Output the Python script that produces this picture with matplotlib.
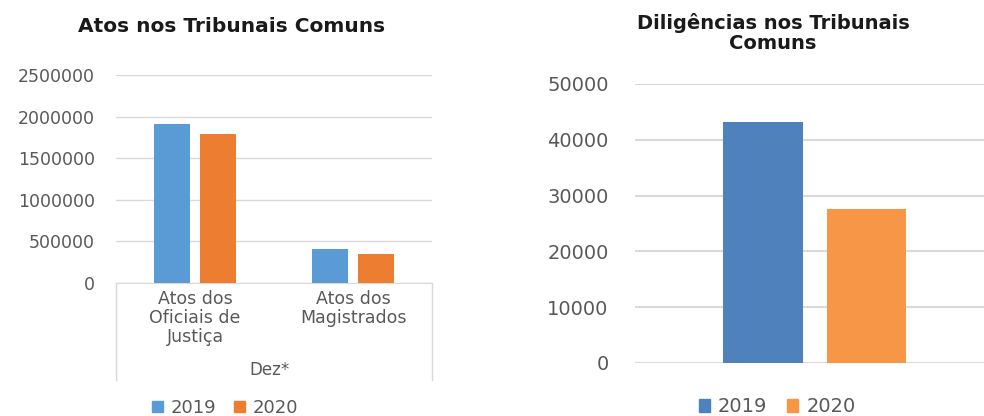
import matplotlib
matplotlib.use("Agg")
import matplotlib.pyplot as plt
import numpy as np
from matplotlib.patches import Patch
from matplotlib.lines import Line2D

# Data
left_categories = ["Atos dos\nOficiais de\nJustiça", "Atos dos\nMagistrados"]
left_2019 = [1910000, 409000]
left_2020 = [1790000, 349000]
left_yticks = [0, 500000, 1000000, 1500000, 2000000, 2500000]
left_xlabel = "Dez*"

right_2019 = [43200]
right_2020 = [27600]
right_yticks = [0, 10000, 20000, 30000, 40000, 50000]

series = ["2019", "2020"]

GRID = "#D9D9D9"
TICK = "#595959"
FONT = "DejaVu Sans"

fig = plt.figure(figsize=(9.84, 4.16), dpi=100)

# ---------- Left chart ----------
axL = fig.add_axes([116/984, 1-283/416, (432-116)/984, (283-75)/416])
x = np.arange(len(left_categories))
w = 0.225
axL.bar(x - 0.147, left_2019, width=w, color="#5B9BD5", zorder=3)
axL.bar(x + 0.147, left_2020, width=w, color="#ED7D31", zorder=3)
axL.set_xlim(-0.5, 1.5)
axL.set_ylim(0, 2500000)
axL.set_yticks(left_yticks)
axL.set_yticklabels([str(v) for v in left_yticks], fontsize=12.5, color=TICK, family=FONT)
axL.yaxis.grid(True, color=GRID, linewidth=1, zorder=0)
for s in ["top", "right", "left"]:
    axL.spines[s].set_visible(False)
axL.spines["bottom"].set_color(GRID)
axL.tick_params(axis="y", length=0, pad=15)
axL.tick_params(axis="x", length=0, pad=5)
axL.set_xticks(x)
axL.set_xticklabels(left_categories, fontsize=12.5, color=TICK, linespacing=1.08, family=FONT)
# category box lines
for xx in (0, 1):
    axL.add_line(Line2D([xx, xx], [0, -97/208], transform=axL.transAxes, color=GRID,
                        linewidth=1, clip_on=False))
axL.text(0.487, -87/208, left_xlabel, transform=axL.transAxes, ha="center", va="center",
         fontsize=12, color=TICK, family=FONT)
fig.text(232/984, 1-27/416, "Atos nos Tribunais Comuns", ha="center", va="center",
         fontsize=14.5, fontweight="bold", family=FONT, color="#1a1a1a")
fig.legend(handles=[Patch(color="#5B9BD5", label=series[0]), Patch(color="#ED7D31", label=series[1])],
           loc="center", bbox_to_anchor=(225/984, 1-408/416), ncol=2, frameon=False,
           handlelength=0.6, handleheight=0.6, handletextpad=0.4, columnspacing=1.0,
           labelcolor=TICK, prop={"family": FONT, "size": 13})

# ---------- Right chart ----------
axR = fig.add_axes([635/984, 1-363/416, (995-635)/984, (363-84)/416])
xr = np.arange(1)
wr = 0.222
axR.bar(xr - 0.144, right_2019, width=wr, color="#4F81BD", zorder=3)
axR.bar(xr + 0.143, right_2020, width=wr, color="#F79646", zorder=3)
axR.set_xlim(-0.5, 0.5)
axR.set_ylim(0, 50000)
axR.set_yticks(right_yticks)
axR.set_yticklabels([str(v) for v in right_yticks], fontsize=14, color=TICK, family=FONT)
axR.yaxis.grid(True, color=GRID, linewidth=1.5, zorder=0)
for s in ["top", "right", "left", "bottom"]:
    axR.spines[s].set_visible(False)
axR.set_xticks([])
axR.tick_params(axis="y", length=0, pad=19)
fig.text(773/984, 1-33/416, "Diligências nos Tribunais\nComuns", ha="center", va="center",
         fontsize=14, fontweight="bold", family=FONT, color="#1a1a1a", linespacing=1.05)
fig.legend(handles=[Patch(color="#4F81BD", label=series[0]), Patch(color="#F79646", label=series[1])],
           loc="center", bbox_to_anchor=(777/984, 1-407/416), ncol=2, frameon=False,
           handlelength=0.6, handleheight=0.6, handletextpad=0.4, columnspacing=1.0,
           labelcolor=TICK, prop={"family": FONT, "size": 14})

fig.savefig("out.png", dpi=100)
